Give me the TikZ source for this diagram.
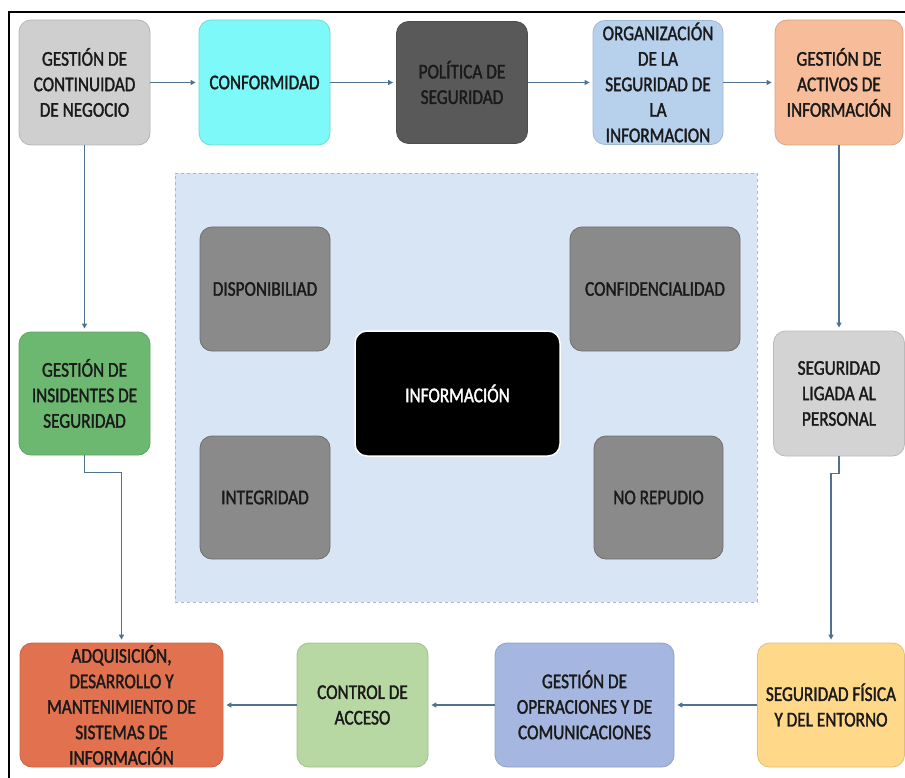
\documentclass[tikz,border=0pt]{standalone}
\usepackage{fontspec}
\setmainfont{Carlito}[FakeStretch=0.82,FakeBold=1.6]
\usetikzlibrary{arrows.meta}
\definecolor{arrowc}{HTML}{4F7290}
\definecolor{txt}{HTML}{1A1A1A}
\definecolor{cGrayA}{HTML}{CFCFCF}
\definecolor{cCyan}{HTML}{7DF9F9}
\definecolor{cDark}{HTML}{595959}
\definecolor{cLBlue}{HTML}{B7D0EC}
\definecolor{cSalmon}{HTML}{F7BC9A}
\definecolor{cGreen}{HTML}{6DB871}
\definecolor{cGrayB}{HTML}{D3D3D3}
\definecolor{cOrange}{HTML}{E2714F}
\definecolor{cLGreen}{HTML}{B8D8A3}
\definecolor{cPeri}{HTML}{A5B6E0}
\definecolor{cYellow}{HTML}{FFD88A}
\definecolor{cRegion}{HTML}{D7E5F4}
\definecolor{cRegionB}{HTML}{A9B8C8}
\definecolor{cInner}{HTML}{8A8A8A}
\begin{document}
\begin{tikzpicture}[x=1pt,y=-1pt,
  box/.style={rounded corners=12pt, align=center, inner sep=0pt,
    font=\fontsize{21}{25.5}\selectfont, text=txt, line width=0.8pt},
  boxfill/.style={box, fill=#1, draw=#1!88!black},
  inner/.style={box, fill=cInner, draw=cInner!80!black},
  link/.style={draw=arrowc, line width=1.3pt, -{Triangle[length=5pt,width=5pt]}, shorten >=3pt},
  wire/.style={draw=arrowc, line width=1.3pt}]
\useasboundingbox (0,0) rectangle (905,778);
\fill[white] (0,0) rectangle (905,778);

% dashed central area
\node[draw=cRegionB, dashed, fill=cRegion, line width=0.8pt, minimum width=582pt, minimum height=429pt, inner sep=0pt] (area) at (466,387.5) {};

% outer frame
\draw[black, line width=2pt] (9,790) -- (9,12) -- (915,12);

% top row
\node[boxfill=cGrayA, minimum width=131pt, minimum height=125pt] (b1) at (84.5,82.5) {GESTIÓN DE\\CONTINUIDAD\\DE NEGOCIO};
\node[boxfill=cCyan, minimum width=131pt, minimum height=125pt] (b2) at (264.5,82.5) {CONFORMIDAD};
\node[boxfill=cDark, minimum width=131pt, minimum height=122pt] (b3) at (462,82.5) {POLÍTICA DE\\SEGURIDAD};
\node[boxfill=cLBlue, minimum width=130pt, minimum height=124pt] (b4) at (658,82.5) {ORGANIZACIÓN\\DE LA\\SEGURIDAD DE\\LA\\INFORMACION};
\node[boxfill=cSalmon, minimum width=128pt, minimum height=125pt] (b5) at (839,82.5) {GESTIÓN DE\\ACTIVOS DE\\INFORMACIÓN};

% side columns
\node[boxfill=cGreen, minimum width=131pt, minimum height=123pt] (l1) at (84.5,393.5) {GESTIÓN DE\\INSIDENTES DE\\SEGURIDAD};
\node[boxfill=cGrayB, minimum width=131pt, minimum height=125pt] (r1) at (839,393.5) {SEGURIDAD\\LIGADA AL\\PERSONAL};

% bottom row
\node[boxfill=cOrange, minimum width=203pt, minimum height=124pt] (d1) at (121.5,705) {ADQUISICIÓN,\\DESARROLLO Y\\MANTENIMIENTO DE\\SISTEMAS DE\\INFORMACIÓN};
\node[boxfill=cLGreen, minimum width=131pt, minimum height=124pt] (d2) at (362.5,705) {CONTROL DE\\ACCESO};
\node[boxfill=cPeri, minimum width=179pt, minimum height=124pt] (d3) at (584.5,705) {GESTIÓN DE\\OPERACIONES Y DE\\COMUNICACIONES};
\node[boxfill=cYellow, minimum width=147pt, minimum height=124pt] (d4) at (831,705) {SEGURIDAD FÍSICA\\Y DEL ENTORNO};

% central pillars
\node[inner, minimum width=130pt, minimum height=124pt] (i1) at (265,289) {DISPONIBILIAD};
\node[inner, minimum width=170pt, minimum height=124pt] (i2) at (655,289) {CONFIDENCIALIDAD};
\node[box, fill=black, draw=white, line width=1.5pt, text=white, minimum width=205pt, minimum height=125pt] (i3) at (457.5,393.5) {INFORMACIÓN};
\node[inner, minimum width=130pt, minimum height=123pt] (i4) at (265,497.5) {INTEGRIDAD};
\node[inner, minimum width=129pt, minimum height=123pt] (i5) at (658.5,497.5) {NO REPUDIO};

% process flow
\draw[link] (b1) -- (b2);
\draw[link] (b2) -- (b3);
\draw[link] (b3) -- (b4);
\draw[link] (b4) -- (b5);
\draw[link] (b1) -- (l1);
\draw[link] (b5) -- (r1);
\draw[link] (l1.south) -- ++(0,17) -| (d1.north);
\draw[link] (r1.south) -- ++(0,17) -| (d4.north);
\draw[link] (d4) -- (d3);
\draw[link] (d3) -- (d2);
\draw[link] (d2) -- (d1);
\end{tikzpicture}
\end{document}
